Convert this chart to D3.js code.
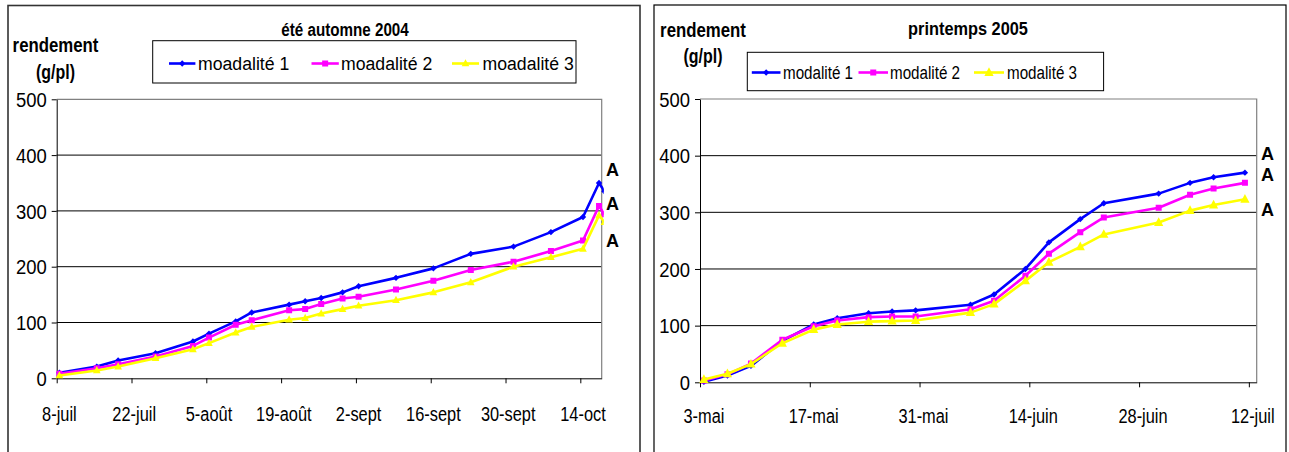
<!DOCTYPE html>
<html>
<head>
<meta charset="utf-8">
<script src="https://cdn.jsdelivr.net/npm/d3@7"></script>
<style>
  body { margin: 0; background: #fff; }
  svg { display: block; }
  text { font-family: "Liberation Sans", Arial, sans-serif; fill: #000; }
</style>
</head>
<body>
<svg id="chart" width="1289" height="452"></svg>
<script>
// ---- Été / automne 2004 : rendement cumulé (g/plante) ----
const dates2004 = ["2004-07-08","2004-07-15","2004-07-19","2004-07-26","2004-08-02","2004-08-05",
  "2004-08-10","2004-08-13","2004-08-20","2004-08-23","2004-08-26","2004-08-30","2004-09-02",
  "2004-09-09","2004-09-16","2004-09-23","2004-10-01","2004-10-08","2004-10-14","2004-10-17","2004-10-18"];
const mod1_2004 = [10, 21, 32, 45, 66, 80, 102, 118, 132, 138, 144, 154, 165, 180, 197, 223, 236, 262, 289, 350, 335];
const mod2_2004 = [8, 18, 25, 39, 58, 73, 96, 104, 122, 124, 133, 143, 146, 159, 175, 194, 209, 228, 247, 309, 294];
const mod3_2004 = [5, 14, 21, 36, 52, 63, 82, 92, 105, 108, 116, 124, 130, 140, 154, 172, 200, 217, 232, 292, 280];
const names2004 = ["moadalité 1", "moadalité 2", "moadalité 3"];
const tickDates2004 = ["2004-07-08","2004-07-22","2004-08-05","2004-08-19","2004-09-02","2004-09-16","2004-09-30","2004-10-14"];
const tickLabels2004 = ["8-juil","22-juil","5-août","19-août","2-sept","16-sept","30-sept","14-oct"];
const range2004 = ["2004-07-08", "2004-10-18"];
const groups2004 = ["A", "A", "A"];
const groupLevels2004 = [363, 302, 235];

// ---- Printemps 2005 ----
const dates2005 = ["2005-05-03","2005-05-06","2005-05-09","2005-05-13","2005-05-17","2005-05-20",
  "2005-05-24","2005-05-27","2005-05-30","2005-06-06","2005-06-09","2005-06-13","2005-06-16",
  "2005-06-20","2005-06-23","2005-06-30","2005-07-04","2005-07-07","2005-07-11"];
const mod1_2005 = [1, 12, 29, 73, 102, 113, 122, 125, 127, 137, 155, 200, 247, 288, 316, 333, 352, 362, 370];
const mod2_2005 = [3, 14, 33, 75, 99, 109, 115, 116, 116, 129, 144, 188, 227, 265, 291, 308, 331, 342, 352];
const mod3_2005 = [5, 15, 32, 69, 93, 102, 107, 108, 109, 123, 138, 179, 212, 239, 261, 282, 303, 313, 323];
const names2005 = ["modalité 1", "modalité 2", "modalité 3"];
const tickDates2005 = ["2005-05-03","2005-05-17","2005-05-31","2005-06-14","2005-06-28","2005-07-12"];
const tickLabels2005 = ["3-mai","17-mai","31-mai","14-juin","28-juin","12-juil"];
const range2005 = ["2005-05-03", "2005-07-13"];
const groups2005 = ["A", "A", "A"];
const groupLevels2005 = [392, 356, 294];

const yTicks = [0, 100, 200, 300, 400, 500];
const colors = ["#0000ff", "#ff00ff", "#ffff00"];
const markerKinds = ["diamond", "square", "triangle"];

const parse = d3.utcParse("%Y-%m-%d");
const midDay = d => d3.utcHour.offset(parse(d), 12);
const svg = d3.select("#chart");

function markerPath(kind, s) {
  if (kind === "diamond") return `M0,${-s}L${s},0L0,${s}L${-s},0Z`;
  if (kind === "square") return `M${-s},${-s}h${2 * s}v${2 * s}h${-2 * s}Z`;
  return `M0,${-s * 1.15}L${s},${s * 0.75}L${-s},${s * 0.75}Z`;
}

// narrow text: glyphs squeezed horizontally around the anchor point
function narrowText(parent, x, y, str, o) {
  return parent.append("text")
    .attr("transform", `translate(${x},${y}) scale(${o.sx},1)`)
    .attr("text-anchor", o.anchor || "start")
    .attr("font-size", o.size)
    .attr("font-weight", o.weight || "normal")
    .text(str);
}

function drawChart(cfg) {
  const g = svg.append("g");
  g.append("rect").attr("x", cfg.frame[0]).attr("y", cfg.frame[1])
    .attr("width", cfg.frame[2]).attr("height", cfg.frame[3])
    .attr("fill", "#fff").attr("stroke", cfg.frameColor).attr("stroke-width", cfg.frameWidth);

  const p = cfg.plot;
  const x = d3.scaleUtc().domain(cfg.range.map(parse)).range([p.x0, p.x1]);
  const y = d3.scaleLinear().domain([0, 500]).range([p.y0, p.y1]);

  // gridlines
  g.append("g").selectAll("line").data(yTicks.filter(v => v > 0 && v < 500)).join("line")
    .attr("x1", p.x0).attr("x2", p.x1).attr("y1", d => y(d)).attr("y2", d => y(d))
    .attr("stroke", "#000").attr("stroke-width", 1);
  // plot border (top and right)
  g.append("path").attr("d", `M${p.x0},${y(500)}H${p.x1}V${y(0)}`)
    .attr("fill", "none").attr("stroke", "#808080").attr("stroke-width", 1.2);

  // y axis
  const ya = g.append("g").attr("transform", `translate(${p.x0},0)`)
    .call(d3.axisLeft(y).tickValues(yTicks).tickSize(5).tickSizeOuter(0).tickFormat(""));
  ya.selectAll("line,path").attr("stroke", "#000");
  yTicks.forEach(v => narrowText(g, p.x0 - 10, y(v) + 7.6, String(v), { size: 20.5, sx: 0.9, anchor: "end" }));

  // x axis: tick marks on day boundaries, labels centred on the day
  const xa = g.append("g").attr("transform", `translate(0,${p.y0})`)
    .call(d3.axisBottom(x).tickValues(cfg.ticks.map(parse)).tickSize(5).tickSizeOuter(0).tickFormat(""));
  xa.selectAll("line,path").attr("stroke", "#000");
  cfg.ticks.forEach((d, i) => narrowText(g, x(midDay(d)), cfg.xLabelY, cfg.tickLabels[i],
    { size: 21, sx: 0.78, anchor: "middle" }));

  // series
  const clipId = "clip" + cfg.id;
  g.append("clipPath").attr("id", clipId).append("rect")
    .attr("x", p.x0 - 6).attr("y", p.y1 - 6).attr("width", p.x1 - p.x0 + 8).attr("height", p.y0 - p.y1 + 12);
  const plotG = g.append("g").attr("clip-path", `url(#${clipId})`);
  const line = d3.line().x(d => x(midDay(d.date))).y(d => y(d.value));
  cfg.series.forEach((vals, i) => {
    const pts = vals.map((v, j) => ({ date: cfg.dates[j], value: v }));
    plotG.append("path").datum(pts).attr("d", line)
      .attr("fill", "none").attr("stroke", colors[i]).attr("stroke-width", 2.6)
      .attr("stroke-linejoin", "round");
    plotG.append("g").selectAll("path").data(pts).join("path")
      .attr("transform", d => `translate(${x(midDay(d.date))},${y(d.value)})`)
      .attr("d", markerPath(markerKinds[i], cfg.markerSize[i]))
      .attr("fill", colors[i]);
  });

  // title and y label
  narrowText(g, cfg.title.x, cfg.title.y, cfg.title.text,
    { size: 19, sx: cfg.title.sx, anchor: "middle", weight: "bold" });
  narrowText(g, cfg.ylab.x, cfg.ylab.y1, "rendement", { size: 21, sx: 0.8, anchor: "middle", weight: "bold" });
  narrowText(g, cfg.ylab.x, cfg.ylab.y2, "(g/pl)", { size: 21, sx: 0.76, anchor: "middle", weight: "bold" });

  // legend
  const L = cfg.legend;
  g.append("rect").attr("x", L.box[0]).attr("y", L.box[1]).attr("width", L.box[2]).attr("height", L.box[3])
    .attr("fill", "#fff").attr("stroke", "#000").attr("stroke-width", 1);
  cfg.names.forEach((name, i) => {
    const it = L.items[i];
    const cy = L.baseline - 6.5;
    g.append("line").attr("x1", it[0]).attr("x2", it[1]).attr("y1", cy).attr("y2", cy)
      .attr("stroke", colors[i]).attr("stroke-width", 2.6);
    g.append("path").attr("transform", `translate(${(it[0] + it[1]) / 2},${cy})`)
      .attr("d", markerPath(markerKinds[i], cfg.markerSize[i])).attr("fill", colors[i]);
    narrowText(g, it[2], L.baseline, name, { size: L.size, sx: L.sx });
  });

  // significance groups
  g.append("g").selectAll("text").data(cfg.groups).join("text")
    .attr("x", cfg.groupX).attr("y", (d, i) => y(cfg.groupLevels[i]))
    .attr("font-weight", "bold").attr("font-size", 18).text(d => d);
}

drawChart({
  id: "a", frame: [8, 5.5, 632, 470], frameColor: "#333", frameWidth: 1.6,
  plot: { x0: 56.7, x1: 601.7, y0: 378.3, y1: 99.3 },
  range: range2004, dates: dates2004, series: [mod1_2004, mod2_2004, mod3_2004],
  ticks: tickDates2004, tickLabels: tickLabels2004, xLabelY: 421,
  names: names2004, markerSize: [3.2, 3, 3.8],
  title: { text: "été automne 2004", x: 345, y: 36, sx: 0.8 },
  ylab: { x: 55.5, y1: 51.7, y2: 79 },
  legend: { box: [152.7, 40.7, 423.3, 42.3], items: [[169, 195.4, 198], [311.5, 338.8, 341], [452, 479, 482.5]],
            baseline: 70, size: 19, sx: 0.93 },
  groups: groups2004, groupLevels: groupLevels2004, groupX: 606
});

drawChart({
  id: "b", frame: [654, 5, 632, 470], frameColor: "#000", frameWidth: 1.2,
  plot: { x0: 700, x1: 1256.7, y0: 382.3, y1: 99 },
  range: range2005, dates: dates2005, series: [mod1_2005, mod2_2005, mod3_2005],
  ticks: tickDates2005, tickLabels: tickLabels2005, xLabelY: 423,
  names: names2005, markerSize: [3.2, 3, 4.6],
  title: { text: "printemps 2005", x: 968, y: 35, sx: 0.86 },
  ylab: { x: 703, y1: 36.7, y2: 63 },
  legend: { box: [747.3, 52.3, 356.3, 38.4], items: [[751.8, 780.5, 783], [858.5, 888, 890], [974, 1004, 1007]],
            baseline: 79, size: 19, sx: 0.8 },
  groups: groups2005, groupLevels: groupLevels2005, groupX: 1261
});
</script>
</body>
</html>
